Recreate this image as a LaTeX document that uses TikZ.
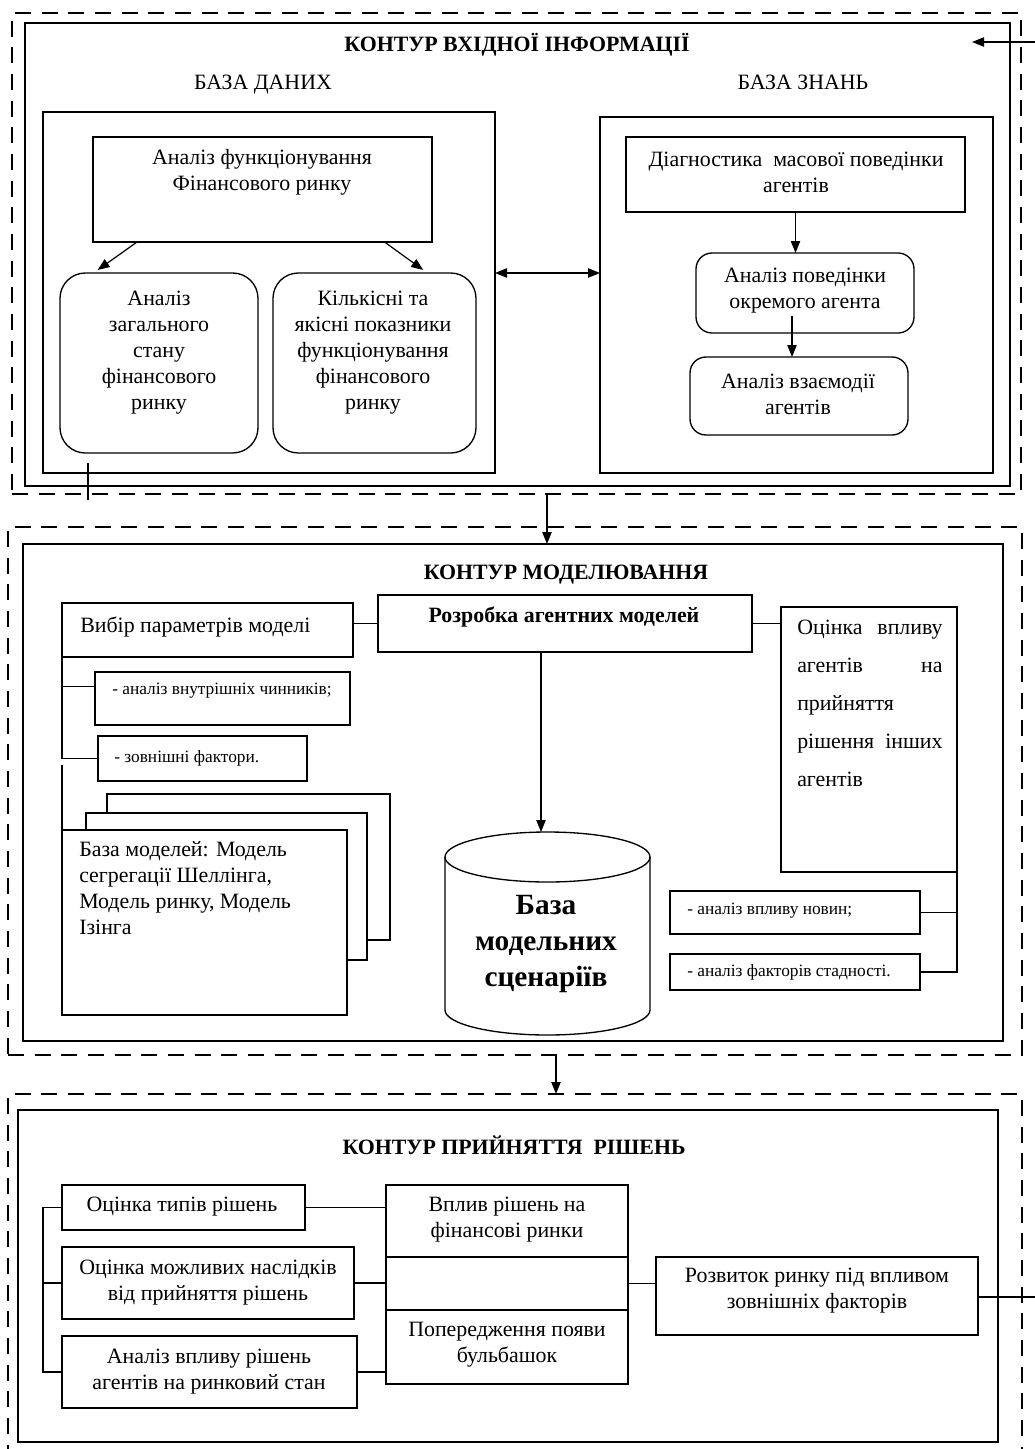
\documentclass[tikz,border=0pt]{standalone}
\usepackage{fontspec}
\setmainfont{Liberation Serif}
\usetikzlibrary{arrows.meta,calc}
\newcommand\fsN{\fontsize{16.4}{19.5}\selectfont}
\newcommand\fsS{\fontsize{13}{15}\selectfont}
\newcommand\fsB{\fontsize{22}{27}\selectfont\bfseries}
\newcommand\Bx[6][]{\node[box,minimum width={(#4-#2)*0.75pt},minimum height={(#5-#3)*0.75pt},#1] (#6) at ({(#2+#4)/2},{(#3+#5)/2}) {};}
\tikzset{
  box/.style={draw, line width=1pt, inner sep=0pt, outer sep=0pt},
  dashbox/.style={line width=2pt, dash pattern=on 12pt off 8pt},
  txt/.style={inner sep=0pt, align=center, font=\fsN},
  stxt/.style={inner sep=0pt, anchor=west, font=\fsS},
  title/.style={inner sep=0pt, anchor=base, font=\fsN\bfseries},
  arr/.style={line width=0.9pt, -{Triangle[length=9pt,width=7pt]}},
  ln/.style={line width=1pt},
}
\begin{document}
\begin{tikzpicture}[x=0.75pt,y=-0.75pt]
\useasboundingbox (0,0) rectangle (1035,1449);
\fill[white] (0,0) rectangle (1035,1449);

% ---------- section 1 ----------
\Bx[dashbox]{12}{13}{1021}{494}{o1}
\Bx{25}{23}{1010}{486}{i1}
\node[title] (t1) at (517,51) {КОНТУР ВХІДНОЇ ІНФОРМАЦІЇ};
\node[txt, anchor=base] (hd1) at (263,89) {БАЗА ДАНИХ};
\node[txt, anchor=base] (hd2) at (803,89) {БАЗА ЗНАНЬ};
\Bx{43}{112}{495}{473}{db}
\Bx{600}{117}{993}{473}{kb}
\Bx{93}{137}{432}{242}{funk}
\node[txt] (funkt) at (262,172) {Аналіз функціонування\\Фінансового ринку};
\Bx[rounded corners=19pt]{60}{273}{258}{453}{zag}
\node[txt] (zagt) at (159,353) {Аналіз\\загального\\стану\\фінансового\\ринку};
\Bx[rounded corners=19pt]{273}{273}{476}{453}{kil}
\node[txt] (kilt) at (373,353) {Кількісні та\\якісні показники\\функціонування\\фінансового\\ринку};
\Bx{626}{137}{965}{212}{diag}
\node[txt] (diagt) at (796,172) {Діагностика\ \ масової поведінки\\агентів};
\Bx[rounded corners=12pt]{696}{253}{914}{333}{povd}
\node[txt] (povdt) at (805,291) {Аналіз поведінки\\окремого агента};
\Bx[rounded corners=12pt]{690}{357}{908}{435}{vzm}
\node[txt] (vzmt) at (798,394) {Аналіз взаємодії\\агентів};

\draw[arr] ($(funk.south west)!0.13!(funk.south east)$) -- ($(zag.north west)!0.19!(zag.north east)+(0,-3)$);
\draw[arr] ($(funk.south west)!0.86!(funk.south east)$) -- ($(kil.north west)!0.74!(kil.north east)+(0,-3)$);
\draw[arr] (diag.south) -- (diag.south |- povd.north);
\coordinate (pvs) at ($(povd.south)+(-13,-17)$);
\draw[arr] (pvs) -- (pvs |- vzm.north);
\coordinate (dbm) at ($(db.north east)!0.446!(db.south east)$);
\draw[line width=0.9pt, {Triangle[length=9pt,width=7pt]}-{Triangle[length=9pt,width=7pt]}]
  (dbm) -- (dbm -| kb.west);
\coordinate (tk1) at (88,463);
\coordinate (tk2) at (88,500);
\draw[ln] (tk1) -- (tk2);
\coordinate (ta) at (1035,42);
\coordinate (tb) at (972,42);
\draw[arr] (ta) -- (tb);

% ---------- section 2 ----------
\Bx[dashbox]{8}{527}{1022}{1055}{o2}
\Bx{23}{544}{1003}{1041}{i2}
\node[title] (t2) at (566,579) {КОНТУР МОДЕЛЮВАННЯ};
\Bx{62}{603}{353}{657}{vyb}
\node[txt, anchor=west] (vybt) at (80,627) {Вибір параметрів моделі};
\Bx{378}{595}{752}{652}{rozr}
\node[txt, font=\fsN\bfseries] (rozrt) at (564,617) {Розробка агентних моделей};
\Bx{95}{672}{350}{725}{vnu}
\node[stxt] (vnut) at (112,691) {- аналіз внутрішніх чинників;};
\Bx{98}{736}{307}{781}{zov}
\node[stxt] (zovt) at (114,758) {- зовнішні фактори.};
\Bx[fill=white]{107}{794}{390}{940}{bm3}
\Bx[fill=white]{86}{813}{367}{960}{bm2}
\Bx[fill=white]{62}{830}{347}{1015}{bm1}
\node[txt, anchor=north west, align=left] (bmt) at (79,841) {База моделей: Модель\\сегрегації Шеллінга,\\Модель ринку, Модель\\Ізінга};
\Bx{781}{607}{957}{872}{oc}
\node[inner sep=0pt, anchor=north west, align=left, font={\fontsize{16.4}{28.5}\selectfont}] (oct) at (797,620)
  {\makebox[109pt][s]{Оцінка\hfill впливу}\\\makebox[109pt][s]{агентів\hfill на}\\прийняття\\\makebox[109pt][s]{рішення\hfill інших}\\агентів};
\Bx{670}{891}{920}{934}{nov}
\node[stxt] (novt) at (687,911) {- аналіз впливу новин;};
\Bx{670}{954}{920}{990}{sta}
\node[stxt] (stat) at (687,972) {- аналіз факторів стадності.};

% cylinder
\draw[line width=1pt] (445,857) -- (445,1010) arc[start angle=180,end angle=0,x radius=102.5,y radius=25] -- (650,857);
\draw[line width=1pt] (547.5,857) ellipse [x radius=102.5, y radius=25];
\node[inner sep=0pt, align=center, font=\fsB] (cyl) at (546,944) {База\\модельних\\сценаріїв};
\coordinate (cyltop) at (541,832);

\draw[ln] (rozr.west) -- (rozr.west -| vyb.east);
\draw[ln] (rozr.east) -- (rozr.east -| oc.west);
\coordinate (vnb) at ($(vnu.north west)!0.27!(vnu.south west)$);
\draw[ln] (vyb.south west) |- (vnb);
\draw[ln] (vyb.south west) |- (zov.west);
\coordinate (bmc) at (62,765);
\draw[ln] (bmc) -- (bm1.north west);
\draw[ln] (oc.south east) |- (sta.east);
\draw[ln] (nov.east) -- (nov.east -| oc.south east);
\draw[arr] (rozr.south -| cyltop) -- (cyltop);

% ---------- section 3 ----------
\Bx[dashbox]{8}{1094}{1022}{1462}{o3}
\Bx{18}{1110}{998}{1442}{i3}
\node[title] (t3) at (514,1154) {КОНТУР ПРИЙНЯТТЯ\ \ РІШЕНЬ};
\Bx{62}{1185}{305}{1230}{tip}
\node[txt] (tipt) at (182,1207) {Оцінка типів рішень};
\Bx{62}{1247}{354}{1319}{mozh}
\node[txt] (mozht) at (208,1283) {Оцінка можливих наслідків\\від прийняття рішень};
\Bx{62}{1336}{357}{1408}{anl}
\node[txt] (anlt) at (209,1372) {Аналіз впливу рішень\\агентів на ринковий стан};
\Bx{386}{1185}{628}{1257}{vpl}
\node[txt] (vplt) at (507,1220) {Вплив рішень на\\фінансові ринки};
\Bx{386}{1257}{628}{1310}{emp}
\Bx{386}{1310}{628}{1384}{pop}
\node[txt] (popt) at (507,1345) {Попередження появи\\бульбашок};
\Bx{656}{1257}{978}{1335}{rozv}
\node[txt] (rozvt) at (817,1291) {Розвиток ринку під впливом\\зовнішніх факторів};

\draw[ln] (tip.west) -- ++(-19,0) |- (anl.west);
\draw[ln] (mozh.west) -- ++(-19,0);
\draw[ln] (tip.east) -- (tip.east -| vpl.west);
\draw[ln] (mozh.east) -- (mozh.east -| emp.west);
\draw[ln] (anl.east) -- (anl.east -| pop.west);
\draw[ln] (emp.east) -- (emp.east -| rozv.west);
\coordinate (re) at (1035,1297);
\draw[ln] (rozv.east |- re) -- (re);

% ---------- links between sections ----------
\draw[arr] (o1.south -| 547,0) -- (i2.north -| 547,0);
\draw[arr] (o2.south -| 556,0) -- (o3.north -| 556,0);
\end{tikzpicture}
\end{document}
